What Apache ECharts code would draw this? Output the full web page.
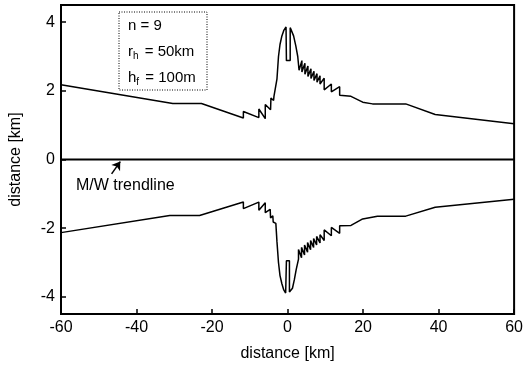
<!DOCTYPE html>
<html>
<head>
<meta charset="utf-8">
<script src="https://cdn.jsdelivr.net/npm/echarts@6/dist/echarts.min.js"></script>
<style>
  html, body { margin: 0; padding: 0; background: #fff; }
  #chart { width: 526px; height: 373px; }
</style>
</head>
<body>
<div id="chart"></div>
<script>
// x ticks (km along the trendline)
var xTicks = [-60, -40, -20, 0, 20, 40, 60];
var yTicks = [-4, -2, 0, 2, 4];

// upper branch: [distance along, distance across] in km
var upperBranch = [
  [-60, 2.18], [-30.4, 1.63], [-22.8, 1.63], [-11.7, 1.21], [-11.7, 1.40],
  [-7.6, 1.22], [-7.6, 1.47], [-5.9, 1.19], [-5.9, 1.60], [-4.5, 1.45],
  [-4.4, 1.79], [-3.7, 1.72], [-3.6, 1.84], [-3.1, 1.86], [-2.8, 2.35],
  [-2.4, 3.0], [-2.0, 3.35], [-1.5, 3.6], [-1.0, 3.76], [-0.4, 3.86],
  [-0.3, 3.86], [-0.3, 2.88], [0.7, 2.88], [0.7, 3.84], [1.1, 3.8],
  [1.6, 3.6], [2.2, 3.3], [2.7, 3.0], [3.05, 2.6],
  [3.8, 2.88], [3.8, 2.55], [4.6, 2.80], [4.6, 2.48], [5.4, 2.72], [5.4, 2.42],
  [6.2, 2.64], [6.2, 2.36], [7.0, 2.57], [7.0, 2.30], [7.8, 2.50], [7.8, 2.25],
  [8.6, 2.44], [8.6, 2.20], [9.7, 2.37], [9.7, 2.03], [11.6, 2.20], [11.6, 1.97],
  [13.8, 2.12], [13.8, 1.87], [16.8, 1.84], [19.9, 1.67], [22.5, 1.62],
  [31.3, 1.62], [39.1, 1.31], [60, 1.04]
];

// lower branch
var lowerBranch = [
  [-60, -2.13], [-31.2, -1.63], [-23.3, -1.63], [-11.7, -1.24], [-11.7, -1.43],
  [-7.6, -1.24], [-7.6, -1.48], [-5.9, -1.26], [-5.9, -1.55], [-4.6, -1.45],
  [-4.5, -1.70], [-3.9, -1.64], [-3.8, -1.82], [-3.1, -1.86], [-2.8, -2.4],
  [-2.4, -3.0], [-2.0, -3.38], [-1.5, -3.62], [-1.0, -3.8], [-0.5, -3.89],
  [-0.3, -3.86], [-0.3, -2.95], [0.5, -2.95], [0.5, -3.86], [0.8, -3.89],
  [1.3, -3.75], [1.8, -3.5], [2.3, -3.2], [2.9, -2.9], [2.9, -2.62],
  [3.7, -2.86], [3.7, -2.56], [4.5, -2.78], [4.5, -2.49], [5.3, -2.70], [5.3, -2.42],
  [6.1, -2.63], [6.1, -2.36], [6.9, -2.56], [6.9, -2.30], [7.7, -2.49], [7.7, -2.24],
  [8.6, -2.43], [8.6, -2.19], [9.7, -2.36], [9.7, -2.05], [11.6, -2.22], [11.6, -1.98],
  [13.8, -2.15], [13.8, -1.93], [16.8, -1.92], [19.9, -1.73], [23.8, -1.65],
  [31.3, -1.65], [39.1, -1.39], [60, -1.16]
];

var trendline = [[-60, 0], [60, 0]];
var arrowFrom = [-46.6, -0.42];
var arrowTo = [-44.3, -0.06];

var legendLines = ['n = 9', 'r{s|h} = 50km', 'h{s|f} = 100m'];

var FONT = '"Liberation Sans", Arial, Helvetica, sans-serif';

var chart = echarts.init(document.getElementById('chart'), null, { renderer: 'canvas' });

var lineStyle = { color: '#000', width: 1.5 };

chart.setOption({
  animation: false,
  backgroundColor: '#fff',
  grid: {
    left: 60, right: 8, top: 5, bottom: 59,
    show: true, borderColor: '#000', borderWidth: 2
  },
  xAxis: {
    type: 'value',
    min: -60, max: 60, interval: 20,
    name: 'distance [km]',
    nameLocation: 'middle',
    nameGap: 32,
    nameTextStyle: { color: '#000', fontSize: 16, fontFamily: FONT },
    axisLine: { show: true, onZero: false, lineStyle: { color: '#000', width: 2 } },
    axisTick: { show: true, inside: true, length: 5, lineStyle: { color: '#000', width: 1.5 } },
    axisLabel: { color: '#000', fontSize: 16, fontFamily: FONT, margin: 6 },
    splitLine: { show: false }
  },
  yAxis: {
    type: 'value',
    min: -4.5, max: 4.5,
    name: 'distance [km]',
    nameLocation: 'middle',
    nameGap: 37,
    nameTextStyle: { color: '#000', fontSize: 16, fontFamily: FONT },
    axisLine: { show: true, onZero: false, lineStyle: { color: '#000', width: 2 } },
    axisTick: { show: true, inside: true, length: 5, lineStyle: { color: '#000', width: 1.5 } },
    axisLabel: {
      color: '#000', fontSize: 16, fontFamily: FONT, margin: 6,
      formatter: function (v) { return yTicks.indexOf(v) >= 0 ? String(v) : ''; }
    },
    splitLine: { show: false }
  },
  series: [
    {
      type: 'line', data: upperBranch, showSymbol: false, silent: true,
      lineStyle: lineStyle
    },
    {
      type: 'line', data: lowerBranch, showSymbol: false, silent: true,
      lineStyle: lineStyle
    },
    {
      type: 'line', data: trendline, showSymbol: false, silent: true,
      lineStyle: { color: '#000', width: 2 },
      markLine: {
        silent: true,
        symbol: ['none', 'arrow'],
        symbolSize: 8,
        label: { show: false },
        lineStyle: { color: '#000', width: 1.5, type: 'solid' },
        data: [[{ coord: arrowFrom }, { coord: arrowTo }]]
      }
    }
  ],
  graphic: [
    {
      type: 'rect',
      shape: { x: 119, y: 12, width: 88, height: 78 },
      style: { fill: '#fff', stroke: '#000', lineWidth: 1, lineDash: [1, 1.5] },
      z: 10
    }
  ].concat(legendLines.map(function (t, i) {
    return {
      type: 'text',
      left: 128,
      top: 18 + i * 26,
      z: 11,
      style: {
        text: t,
        fill: '#000',
        font: '15px ' + FONT,
        rich: {
          s: { fontSize: 10, fontFamily: FONT, fill: '#000', padding: [9, 2, 0, 0] }
        }
      }
    };
  })).concat([
    {
      type: 'text',
      left: 76,
      top: 178,
      z: 11,
      style: { text: 'M/W trendline', fill: '#000', font: '16px ' + FONT }
    }
  ])
});
</script>
</body>
</html>
